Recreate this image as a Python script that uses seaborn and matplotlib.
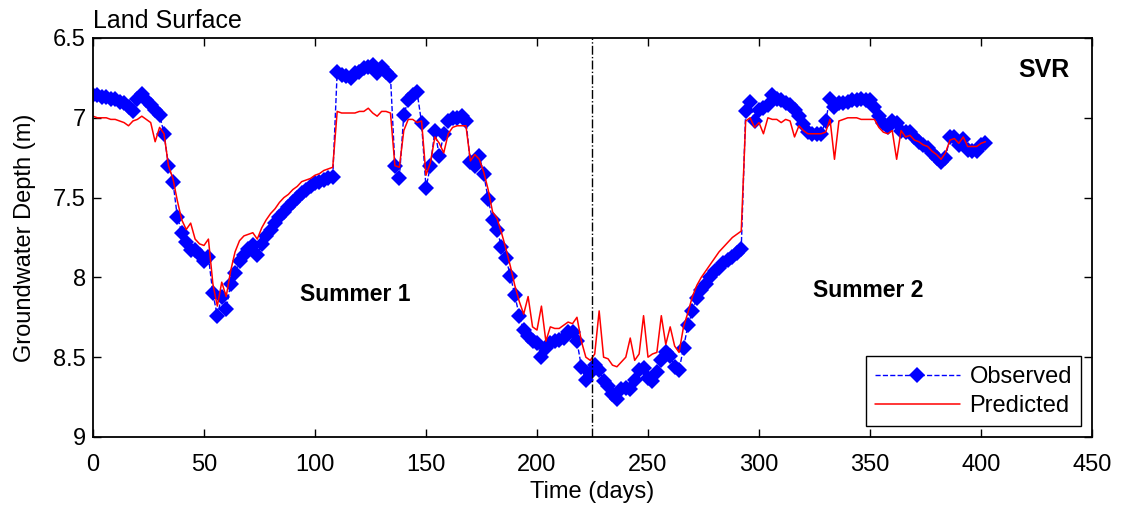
import numpy as np
import pandas as pd
import matplotlib
matplotlib.use('Agg')
import matplotlib.pyplot as plt
import seaborn as sns

# observed groundwater depth (m), sampled every 2 days from day 0
observed = [
    6.86, 6.86, 6.87, 6.87, 6.88, 6.88, 6.90, 6.91, 6.93, 6.96,
    6.88, 6.85, 6.89, 6.92, 6.95, 6.98, 7.10, 7.30, 7.40, 7.62,
    7.72, 7.78, 7.83, 7.83, 7.86, 7.90, 7.87, 8.10, 8.24, 8.12,
    8.20, 8.04, 7.97, 7.90, 7.86, 7.82, 7.80, 7.86, 7.79, 7.74,
    7.70, 7.66, 7.62, 7.59, 7.56, 7.53, 7.50, 7.47, 7.45, 7.43,
    7.41, 7.40, 7.39, 7.38, 7.37, 6.71, 6.73, 6.74, 6.75, 6.72,
    6.71, 6.69, 6.68, 6.67, 6.72, 6.68, 6.71, 6.74, 7.30, 7.38,
    6.98, 6.89, 6.86, 6.84, 7.03, 7.44, 7.30, 7.08, 7.24, 7.10,
    7.02, 7.00, 7.00, 6.99, 7.02, 7.28, 7.30, 7.24, 7.35, 7.51,
    7.64, 7.70, 7.81, 7.88, 7.99, 8.11, 8.24, 8.33, 8.37, 8.40,
    8.41, 8.50, 8.44, 8.41, 8.40, 8.39, 8.38, 8.34, 8.34, 8.40,
    8.56, 8.64, 8.60, 8.55, 8.58, 8.65, 8.68, 8.73, 8.76, 8.70,
    8.69, 8.70, 8.64, 8.58, 8.57, 8.63, 8.65, 8.59, 8.52, 8.47,
    8.49, 8.56, 8.58, 8.44, 8.30, 8.21, 8.13, 8.08, 8.04, 8.00,
    7.96, 7.94, 7.91, 7.89, 7.87, 7.85, 7.82, 6.96, 6.90, 7.02,
    6.95, 6.94, 6.92, 6.86, 6.88, 6.89, 6.91, 6.92, 6.95, 6.99,
    7.04, 7.09, 7.10, 7.10, 7.10, 7.02, 6.88, 6.93, 6.91, 6.91,
    6.90, 6.89, 6.89, 6.88, 6.89, 6.89, 6.93, 6.99, 7.03, 7.06,
    7.02, 7.03, 7.08, 7.09, 7.09, 7.12, 7.15, 7.17, 7.19, 7.22,
    7.25, 7.28, 7.25, 7.12, 7.12, 7.17, 7.13, 7.20, 7.21, 7.21,
    7.17, 7.16,
]

# predicted groundwater depth (m), same 2-day sampling
predicted = [
    6.99, 7.00, 7.00, 7.00, 7.01, 7.01, 7.02, 7.03, 7.05, 7.02,
    7.01, 6.99, 7.01, 7.03, 7.15, 7.06, 7.10, 7.30, 7.38, 7.52,
    7.64, 7.70, 7.66, 7.76, 7.79, 7.80, 7.76, 8.04, 8.18, 8.03,
    8.12, 7.96, 7.84, 7.77, 7.74, 7.73, 7.72, 7.76, 7.69, 7.64,
    7.60, 7.57, 7.53, 7.50, 7.48, 7.45, 7.43, 7.40, 7.39, 7.38,
    7.36, 7.35, 7.33, 7.32, 7.31, 6.96, 6.97, 6.97, 6.97, 6.97,
    6.96, 6.96, 6.94, 6.97, 6.99, 6.96, 6.96, 6.97, 7.30, 7.31,
    7.08, 7.01, 7.01, 7.03, 7.02, 7.36, 7.28, 7.12, 7.16, 7.22,
    7.10, 7.06, 7.05, 7.05, 7.05, 7.27, 7.23, 7.26, 7.34, 7.45,
    7.59, 7.63, 7.72, 7.82, 7.93, 8.05, 8.15, 8.23, 8.12, 8.31,
    8.33, 8.18, 8.40, 8.31, 8.32, 8.32, 8.30, 8.28, 8.29, 8.25,
    8.40, 8.50, 8.52, 8.48, 8.21, 8.50, 8.51, 8.55, 8.56, 8.53,
    8.50, 8.38, 8.52, 8.48, 8.24, 8.50, 8.48, 8.47, 8.24, 8.42,
    8.31, 8.43, 8.47, 8.31, 8.22, 8.12, 8.05, 8.00, 7.96, 7.92,
    7.88, 7.84, 7.81, 7.78, 7.75, 7.73, 7.71, 7.02, 7.00, 7.06,
    7.03, 7.10, 7.00, 7.01, 7.01, 7.03, 7.01, 7.02, 7.12, 7.05,
    7.08, 7.10, 7.10, 7.10, 7.10, 7.09, 7.01, 7.26, 7.02, 7.01,
    7.00, 7.00, 7.00, 7.01, 7.01, 7.01, 7.01, 7.06, 7.09, 7.10,
    7.08, 7.26, 7.08, 7.12, 7.11, 7.14, 7.15, 7.17, 7.18, 7.21,
    7.23, 7.26, 7.22, 7.14, 7.13, 7.16, 7.12, 7.18, 7.18, 7.18,
    7.16, 7.15,
]

days = np.arange(len(observed)) * 2
summer_split = 225

x_ticks = [0, 50, 100, 150, 200, 250, 300, 350, 400, 450]
y_ticks = [6.5, 7, 7.5, 8, 8.5, 9]
y_tick_labels = ['6.5', '7', '7.5', '8', '8.5', '9']

df = pd.DataFrame({'day': days, 'Observed': observed, 'Predicted': predicted})

sns.set_style('white')
plt.rcParams['font.family'] = ['Liberation Sans', 'DejaVu Sans']
plt.rcParams['text.color'] = 'black'
plt.rcParams['axes.labelcolor'] = 'black'
plt.rcParams['xtick.color'] = 'black'
plt.rcParams['ytick.color'] = 'black'

fig = plt.figure(figsize=(11.23, 5.08), dpi=100)
ax = fig.add_axes([0.0828, 0.1398, 0.8896, 0.7854])

sns.lineplot(data=df, x='day', y='Observed', ax=ax, color='#0000ff',
             linestyle='--', linewidth=1.0, marker='D', markersize=8.5,
             markeredgewidth=0, label='Observed')
sns.lineplot(data=df, x='day', y='Predicted', ax=ax, color='#ff0000',
             linewidth=1.1, label='Predicted')

ax.axvline(summer_split, color='black', linestyle='-.', linewidth=1.0)

ax.set_xlim(0, 450)
ax.set_ylim(9, 6.5)
ax.set_xticks(x_ticks)
ax.set_yticks(y_ticks)
ax.set_yticklabels(y_tick_labels)
ax.tick_params(direction='in', length=6, width=1, labelsize=17,
               top=True, right=True, bottom=True, left=True)
ax.tick_params(axis='x', pad=12)
ax.tick_params(axis='y', pad=5)
for s in ax.spines.values():
    s.set_linewidth(1.3)
    s.set_color('black')

ax.set_xlabel('Time (days)', fontsize=17, labelpad=4)
ax.set_ylabel('Groundwater Depth (m)', fontsize=17, labelpad=12)

ax.text(0, 1.012, 'Land Surface', transform=ax.transAxes, fontsize=18,
        ha='left', va='bottom')
ax.text(417, 6.70, 'SVR', fontsize=18, fontweight='bold', ha='left', va='center')
ax.text(118, 8.11, 'Summer 1', fontsize=16.5, fontweight='bold', ha='center', va='center')
ax.text(349, 8.08, 'Summer 2', fontsize=16.5, fontweight='bold', ha='center', va='center')

leg = ax.legend(loc='lower right', fontsize=17, frameon=True, fancybox=False,
                edgecolor='black', framealpha=1, borderaxespad=0.45,
                handlelength=3.6, handletextpad=0.4, labelspacing=0.3,
                borderpad=0.4)
leg.get_frame().set_linewidth(1.0)

fig.savefig('out.png', dpi=100)
